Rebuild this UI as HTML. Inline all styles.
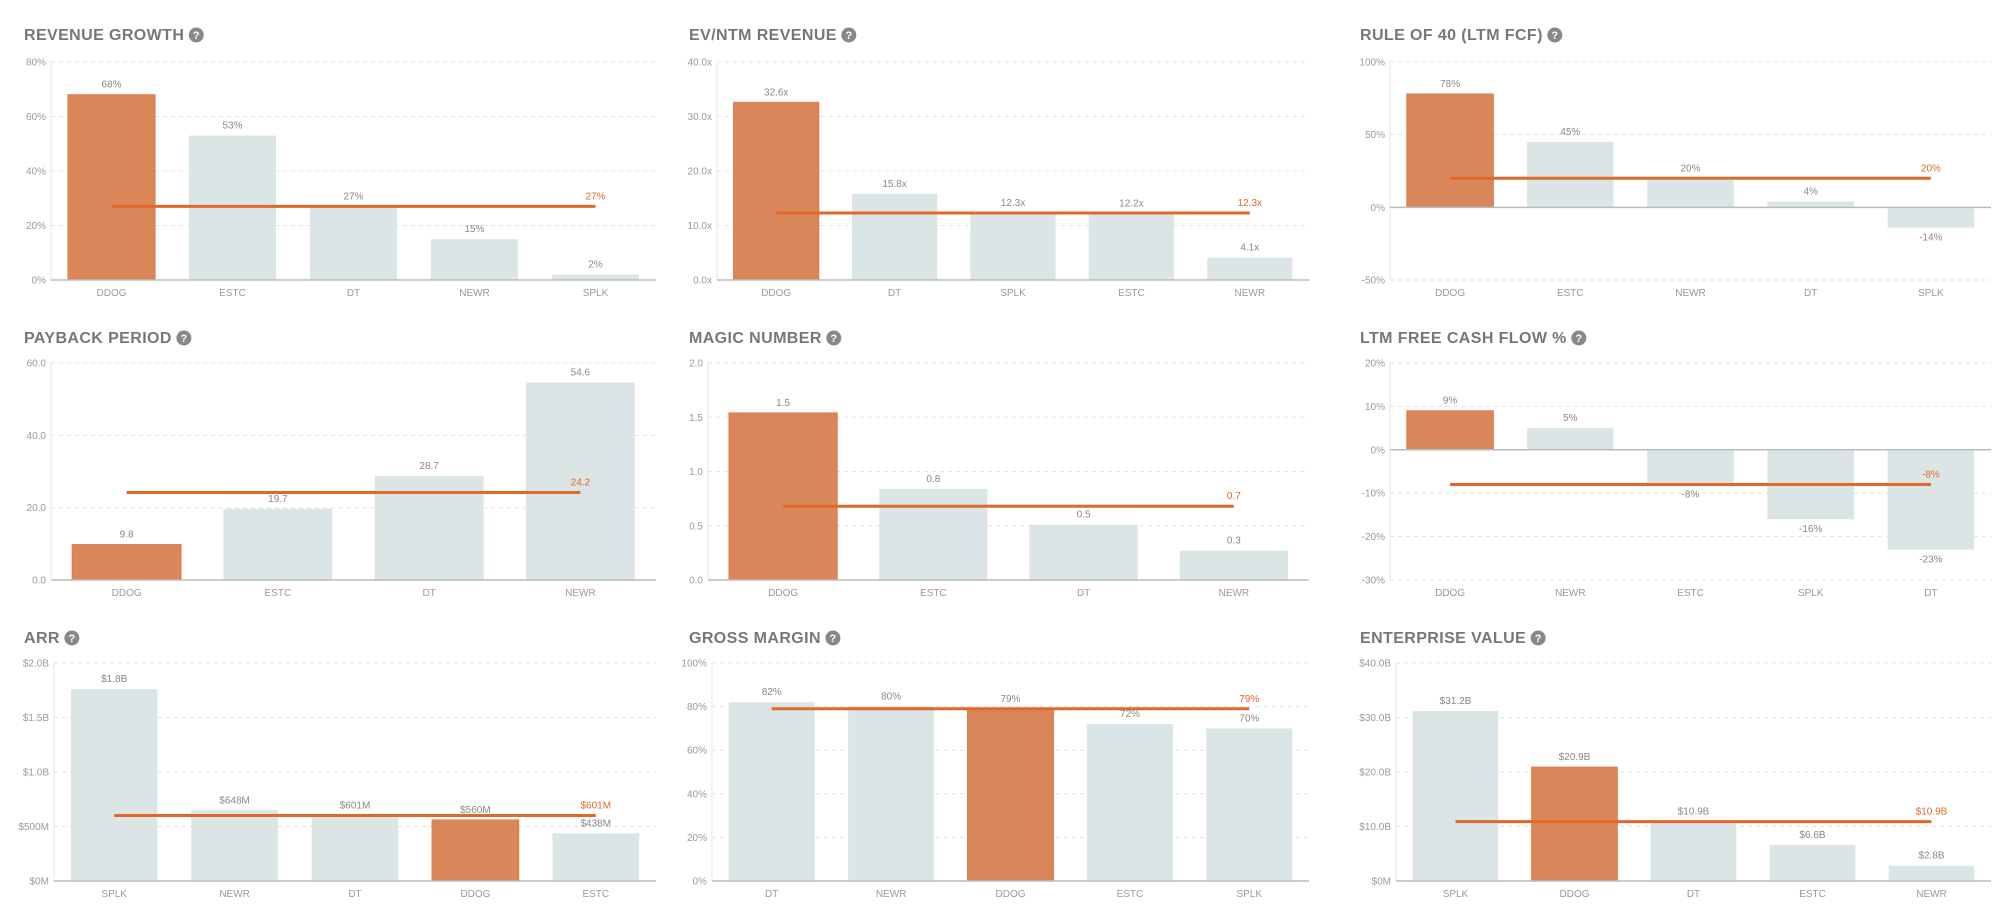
<!DOCTYPE html>
<html><head><meta charset="utf-8">
<style>
html,body{margin:0;padding:0;background:#fff;}
svg{display:block;font-family:"Liberation Sans",sans-serif;}
.tt{font-size:16px;font-weight:bold;fill:#777;letter-spacing:0.4px;}
.tk{font-size:10px;fill:#999;}
.vl{font-size:10px;fill:#888;}
.al{font-size:10px;fill:#e0692a;}
</style></head>
<body>
<svg id="root" width="2000" height="919" viewBox="0 0 2000 919"></svg>
<script>
// ---- chart data ----
const revCats=["DDOG","ESTC","DT","NEWR","SPLK"];
const revVals=[68,53,27,15,2];
const revAvg=27;
const revTicks=[0,20,40,60,80];

const evCats=["DDOG","DT","SPLK","ESTC","NEWR"];
const evVals=[32.6,15.8,12.3,12.2,4.1];
const evAvg=12.3;
const evTicks=[0,10,20,30,40];

const r40Cats=["DDOG","ESTC","NEWR","DT","SPLK"];
const r40Vals=[78,45,20,4,-14];
const r40Avg=20;
const r40Ticks=[-50,0,50,100];

const payCats=["DDOG","ESTC","DT","NEWR"];
const payVals=[9.8,19.7,28.7,54.6];
const payAvg=24.2;
const payTicks=[0,20,40,60];

const magCats=["DDOG","ESTC","DT","NEWR"];
const magVals=[1.54,0.84,0.51,0.27];
const magAvg=0.68;
const magTicks=[0,0.5,1,1.5,2];

const fcfCats=["DDOG","NEWR","ESTC","SPLK","DT"];
const fcfVals=[9,5,-8,-16,-23];
const fcfAvg=-8;
const fcfTicks=[-30,-20,-10,0,10,20];

const arrCats=["SPLK","NEWR","DT","DDOG","ESTC"];
const arrVals=[1760,648,601,560,438];
const arrAvg=601;
const arrTicks=[0,500,1000,1500,2000];

const gmCats=["DT","NEWR","DDOG","ESTC","SPLK"];
const gmVals=[82,80,79,72,70];
const gmAvg=79;
const gmTicks=[0,20,40,60,80,100];

const entCats=["SPLK","DDOG","DT","ESTC","NEWR"];
const entVals=[31.2,20.9,10.9,6.6,2.8];
const entAvg=10.9;
const entTicks=[0,10,20,30,40];

const NS="http://www.w3.org/2000/svg";
const root=document.getElementById('root');
function mk(tag,attrs,parent,text){
  const e=document.createElementNS(NS,tag);
  for(const k in attrs)e.setAttribute(k,attrs[k]);
  if(text!==undefined)e.textContent=text;
  (parent||root).appendChild(e);return e;
}
const pct=v=>Math.round(v)+"%";
const xf=v=>v.toFixed(1)+"x";
const d1=v=>v.toFixed(1);
const money=v=>v>=1000?"$"+(v/1000).toFixed(1)+"B":"$"+Math.round(v)+"M";
const moneyB=v=>v===0?"$0M":"$"+v.toFixed(1)+"B";
const moneyBv=v=>"$"+v.toFixed(1)+"B";

const cols=[{tx:24,l:51,r:656},{tx:689,l:717,r:1309},{tx:1360,l:1390,r:1991}];
const rows=[{ty:40,top:62,bot:280},{ty:343,top:363,bot:580},{ty:643,top:663,bot:881}];

function chart(name,title,c,r,cats,vals,avg,ticks,hi,tickFmt,valFmt,plotL){
  const C=cols[c],R=rows[r];
  const L=plotL||C.l, Rr=C.r;
  const g=mk('g',{});
  
  
  const t=mk('text',{x:C.tx,y:R.ty,class:'tt'},g,title);
  
  
  const tw=t.getComputedTextLength();
  const ic=mk('g',{},g);
  
  
  mk('circle',{cx:C.tx+tw+12,cy:R.ty-5,r:7.5,fill:'#888'},ic);
  mk('text',{x:C.tx+tw+12,y:R.ty-1,'text-anchor':'middle','font-size':'11','font-weight':'bold',fill:'#fff'},ic,'?');
  const mn=ticks[0],mx=ticks[ticks.length-1];
  const y=v=>R.bot-(v-mn)/(mx-mn)*(R.bot-R.top);
  const band=(Rr-L)/cats.length;
  const xc=i=>L+band*(i+0.5);
  const bw=band*0.72;
  ticks.forEach(tv=>{
    if(tv!==0){
      const gl=mk('line',{x1:L,x2:Rr,y1:y(tv),y2:y(tv),stroke:'#e2e2e2','stroke-dasharray':'4,4'},g);
      
      
    }
    const tl=mk('text',{x:L-5,y:y(tv)+3.5,'text-anchor':'end',class:'tk'},g,tickFmt(tv));
    
    
  });
  mk('line',{x1:L,x2:L,y1:R.top,y2:R.bot,stroke:'#e4e4e4'},g);
  vals.forEach((v,i)=>{
    const y0=y(0),y1=y(v);
    const b=mk('rect',{x:xc(i)-bw/2,y:Math.min(y0,y1),width:bw,height:Math.abs(y1-y0),
      fill:i===hi?'#d9875a':'#dce5e5',stroke:i===hi?'#e07a45':'none','stroke-width':1},g);
    
    
    const ly=v>=0?y1-7:y1+13;
    const vl=mk('text',{x:xc(i),y:ly,'text-anchor':'middle',class:'vl'},g,valFmt(v));
    
    
    const cl=mk('text',{x:xc(i),y:R.bot+16,'text-anchor':'middle',class:'tk'},g,cats[i]);
    
    
  });
  const zl=mk('line',{x1:L,x2:Rr,y1:y(0),y2:y(0),stroke:'#bbb','stroke-width':1.5},g);
  
  
  if(mn<0){mk('line',{x1:L,x2:Rr,y1:R.bot,y2:R.bot,stroke:'#e2e2e2','stroke-dasharray':'4,4'},g);}
  const n=cats.length;
  const al=mk('line',{x1:xc(0),x2:xc(n-1),y1:y(avg),y2:y(avg),stroke:'#e0692a','stroke-width':3},g);
  
  
  const at=mk('text',{x:xc(n-1),y:y(avg)-7,'text-anchor':'middle',class:'al'},g,valFmt(avg));
  
  
}
chart('revenue-growth','REVENUE GROWTH',0,0,revCats,revVals,revAvg,revTicks,0,pct,pct);
chart('ev-ntm-revenue','EV/NTM REVENUE',1,0,evCats,evVals,evAvg,evTicks,0,xf,xf);
chart('rule-of-40','RULE OF 40 (LTM FCF)',2,0,r40Cats,r40Vals,r40Avg,r40Ticks,0,pct,pct);
chart('payback-period','PAYBACK PERIOD',0,1,payCats,payVals,payAvg,payTicks,0,d1,d1);
chart('magic-number','MAGIC NUMBER',1,1,magCats,magVals,magAvg,magTicks,0,d1,d1,708);
chart('ltm-fcf','LTM FREE CASH FLOW %',2,1,fcfCats,fcfVals,fcfAvg,fcfTicks,0,pct,pct);
chart('arr','ARR',0,2,arrCats,arrVals,arrAvg,arrTicks,3,money,money,54);
chart('gross-margin','GROSS MARGIN',1,2,gmCats,gmVals,gmAvg,gmTicks,2,pct,pct,712);
chart('enterprise-value','ENTERPRISE VALUE',2,2,entCats,entVals,entAvg,entTicks,1,moneyB,moneyBv,1396);
</script>
</body></html>
